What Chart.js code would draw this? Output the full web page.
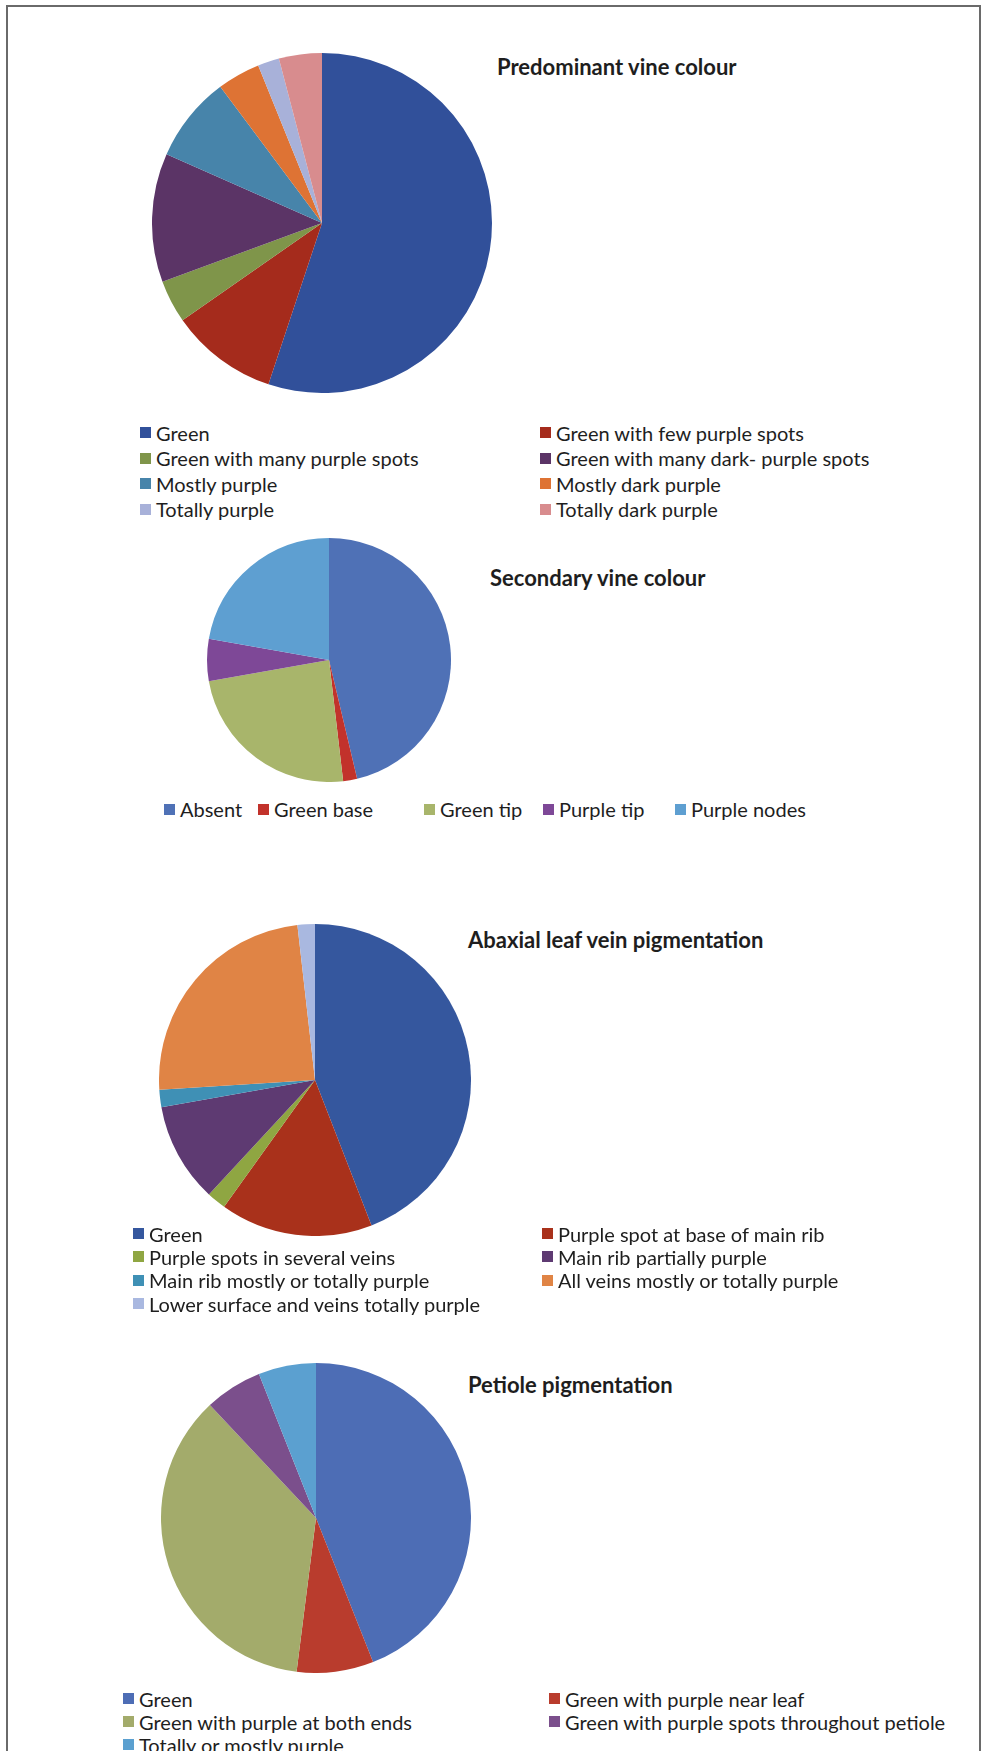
<!DOCTYPE html>
<html>
<head>
<meta charset="utf-8">
<script src="https://cdn.jsdelivr.net/npm/chart.js@4/dist/chart.umd.min.js"></script>
<style>
    html, body { margin: 0; padding: 0; background: #fff; }
    body { width: 982px; height: 1751px; position: relative; overflow: hidden; font-family: Lato, "Open Sans", sans-serif; color: #1e1e1e; }
    .frame { position: absolute; left: 6px; top: 5px; width: 971px; height: 1800px; border: 2px solid #6a6a6a; }
    canvas { position: absolute; }
    .title { position: absolute; font-weight: bold; font-size: 22px; white-space: nowrap; line-height: 26px; }
    .legend { position: absolute; display: grid; font-size: 20px; white-space: nowrap; }
    .legend .item { display: flex; align-items: center; }
    .legend .box { width: 11px; height: 11px; margin-right: 5px; flex: none; }
</style>
</head>
<body>
<div class="frame"></div>

<div class="title" style="left:497px; top:54px">Predominant vine colour</div>
<canvas id="pie1" width="340" height="340" style="left:152px; top:53px"></canvas>
<div class="legend" id="legend1" style="left:140px; top:420px; grid-template-columns: 400px auto; grid-auto-rows: 25.5px"></div>

<div class="title" style="left:490px; top:565px">Secondary vine colour</div>
<canvas id="pie2" width="244" height="244" style="left:207px; top:538px"></canvas>
<div class="legend" id="legend2" style="left:164px; top:797px; grid-template-columns: 94px 166px 119px 132px auto; grid-auto-rows: 24px"></div>

<div class="title" style="left:468px; top:927px">Abaxial leaf vein pigmentation</div>
<canvas id="pie3" width="312" height="312" style="left:159px; top:924px"></canvas>
<div class="legend" id="legend3" style="left:133px; top:1222px; grid-template-columns: 409px auto; grid-auto-rows: 23.3px"></div>

<div class="title" style="left:468px; top:1372px">Petiole pigmentation</div>
<canvas id="pie4" width="310" height="310" style="left:161px; top:1363px"></canvas>
<div class="legend" id="legend4" style="left:123px; top:1687px; grid-template-columns: 426px auto; grid-auto-rows: 23px"></div>

<script>
// Predominant vine colour
const vineLabels = [
    'Green',
    'Green with few purple spots',
    'Green with many purple spots',
    'Green with many dark- purple spots',
    'Mostly purple',
    'Mostly dark purple',
    'Totally purple',
    'Totally dark purple',
];
const vineValues = [27, 5, 2, 6, 4, 2, 1, 2];
const vineColors = ['#31509a', '#a52b1c', '#7f954a', '#5b3466', '#4784aa', '#de7334', '#a8b1d9', '#d88c8e'];

// Secondary vine colour
const secondaryLabels = ['Absent', 'Green base', 'Green tip', 'Purple tip', 'Purple nodes'];
const secondaryValues = [25, 1, 13, 3, 12];
const secondaryColors = ['#4f71b6', '#c2322b', '#a8b56b', '#7e4897', '#5e9fd1'];

// Abaxial leaf vein pigmentation
const abaxialLabels = [
    'Green',
    'Purple spot at base of main rib',
    'Purple spots in several veins',
    'Main rib partially purple',
    'Main rib mostly or totally purple',
    'All veins mostly or totally purple',
    'Lower surface and veins totally purple',
];
const abaxialValues = [44.1, 15.8, 2.0, 10.3, 1.8, 24.2, 1.8];
const abaxialColors = ['#35579e', '#a9311b', '#8fa642', '#5e3a72', '#3f90b5', '#e08445', '#a9b8e0'];

// Petiole pigmentation
const petioleLabels = [
    'Green',
    'Green with purple near leaf',
    'Green with purple at both ends',
    'Green with purple spots throughout petiole',
    'Totally or mostly purple',
];
const petioleValues = [22, 4, 18, 3, 3];
const petioleColors = ['#4d6db5', '#b93c2d', '#a3ab6b', '#7b4f8c', '#5ba0d0'];

function makePie(canvasId, legendId, labels, values, colors) {
    const chart = new Chart(document.getElementById(canvasId), {
        type: 'pie',
        data: {
            labels: labels,
            datasets: [{
                data: values,
                backgroundColor: colors,
                borderWidth: 0,
            }],
        },
        options: {
            responsive: false,
            animation: false,
            events: [],
            layout: { padding: 0 },
            plugins: {
                legend: { display: false },
                tooltip: { enabled: false },
                title: { display: false },
            },
        },
    });

    // html legend built from the chart's own data
    const legend = document.getElementById(legendId);
    chart.data.labels.forEach((label, i) => {
        const item = document.createElement('div');
        item.className = 'item';
        const box = document.createElement('span');
        box.className = 'box';
        box.style.background = chart.data.datasets[0].backgroundColor[i];
        const text = document.createElement('span');
        text.textContent = label;
        item.append(box, text);
        legend.append(item);
    });
    return chart;
}

makePie('pie1', 'legend1', vineLabels, vineValues, vineColors);
makePie('pie2', 'legend2', secondaryLabels, secondaryValues, secondaryColors);
makePie('pie3', 'legend3', abaxialLabels, abaxialValues, abaxialColors);
makePie('pie4', 'legend4', petioleLabels, petioleValues, petioleColors);
</script>
</body>
</html>
